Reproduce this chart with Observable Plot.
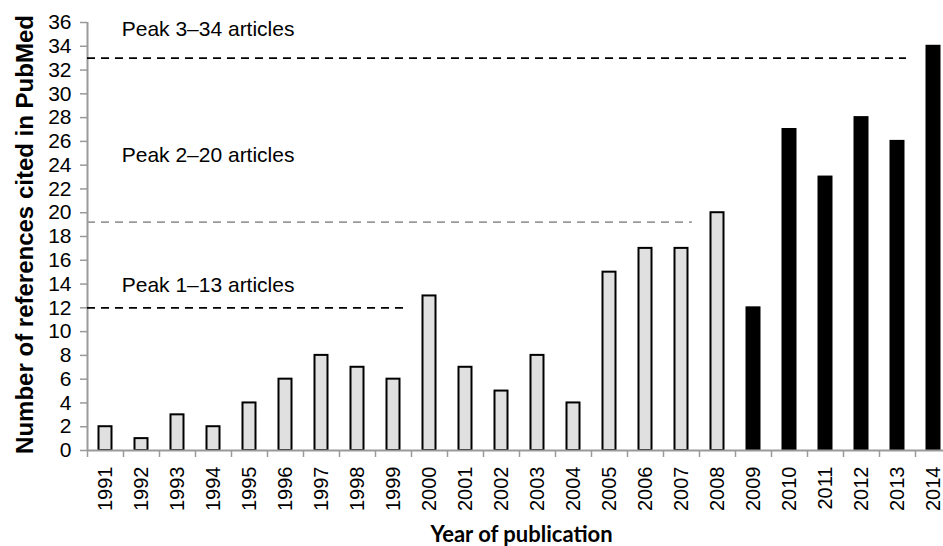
<!DOCTYPE html>
<html>
<head>
<meta charset="utf-8">
<script src="https://cdn.jsdelivr.net/npm/d3@7"></script>
<script src="https://cdn.jsdelivr.net/npm/@observablehq/plot@0.6"></script>
<style>
  html, body { margin: 0; padding: 0; background: #fff; }
  #chart svg { display: block; }
</style>
</head>
<body>
<div id="chart"></div>
<script>
const years = [1991, 1992, 1993, 1994, 1995, 1996, 1997, 1998, 1999, 2000, 2001, 2002,
               2003, 2004, 2005, 2006, 2007, 2008, 2009, 2010, 2011, 2012, 2013, 2014];
const counts = [2, 1, 3, 2, 4, 6, 8, 7, 6, 13, 7, 5, 8, 4, 15, 17, 17, 20, 12, 27, 23, 28, 26, 34];
const recentFrom = 2009;

const yTickValues = [0, 2, 4, 6, 8, 10, 12, 14, 16, 18, 20, 22, 24, 26, 28, 30, 32, 34, 36];

const peakLabels = ["Peak 1–13 articles", "Peak 2–20 articles", "Peak 3–34 articles"];
const peakLineValues = [12, 19.2, 33];
const peakLineEnds = [1999.4, 2007.3, 2013.25];
const peakLabelValues = [13.88, 24.87, 35.47];
const peakLabelYear = 1991.45;

const yTitle = "Number of references cited in PubMed";
const xTitle = "Year of publication";

const data = years.map((year, i) => ({year, count: counts[i]}));
const peaks = peakLabels.map((label, i) => ({
  label, line: peakLineValues[i], end: peakLineEnds[i], labelY: peakLabelValues[i]
}));
const bounds = [...years.map(y => y - 0.5), years[years.length - 1] + 0.5];
const xStart = bounds[0];

const font = "'Liberation Sans', Arial, Helvetica, sans-serif";

const chart = Plot.plot({
  width: 943,
  height: 546,
  marginLeft: 87,
  marginRight: 0,
  marginTop: 22,
  marginBottom: 96,
  style: {fontFamily: font, fontSize: "20px", color: "#000", background: "#fff"},
  x: {domain: [1990.5, 2014.5], range: [87, 951], label: null},
  y: {domain: [0, 36], range: [450, 22], label: null},
  marks: [
    Plot.rectY(data, {
      x1: d => d.year - 0.5,
      x2: d => d.year + 0.5,
      y: "count",
      insetLeft: 11.5,
      insetRight: 11.5,
      fill: d => d.year >= recentFrom ? "#000" : "#e0e0e0",
      stroke: "#000",
      strokeWidth: 2
    }),
    Plot.ruleX([xStart], {stroke: "#9a9a9a", strokeWidth: 2}),
    Plot.ruleY([0], {stroke: "#9a9a9a", strokeWidth: 2}),
    // y ticks (gray marks)
    Plot.axisY({
      ticks: yTickValues,
      tickSize: 7,
      stroke: "#9a9a9a",
      strokeWidth: 1.5,
      fill: "none",
      label: null
    }),
    // y tick labels
    Plot.text(yTickValues, {
      x: xStart,
      y: d => d,
      text: d => String(d),
      textAnchor: "end",
      lineAnchor: "middle",
      dx: -16,
      fontSize: 21,
      fill: "#000"
    }),
    // x ticks at band boundaries
    Plot.axisX({
      ticks: bounds,
      tickSize: 7,
      stroke: "#9a9a9a",
      strokeWidth: 1.5,
      fill: "none",
      label: null
    }),
    // x tick labels (rotated)
    Plot.text(years, {
      x: d => d,
      y: 0,
      text: d => String(d),
      rotate: -90,
      textAnchor: "end",
      lineAnchor: "middle",
      dy: 16,
      fontSize: 20,
      fill: "#000"
    }),
    Plot.ruleY(peaks, {
      y: "line",
      x1: xStart,
      x2: "end",
      stroke: (d, i) => i === 1 ? "#9a9a9a" : "#000",
      strokeWidth: 1.75,
      strokeDasharray: "8,6"
    }),
    Plot.text(peaks, {
      x: peakLabelYear,
      y: "labelY",
      text: "label",
      textAnchor: "start",
      fontSize: 21,
      fill: "#000"
    }),
    Plot.text([yTitle], {
      frameAnchor: "left",
      rotate: -90,
      textAnchor: "middle",
      lineAnchor: "middle",
      dx: -62,
      dy: -2,
      fontSize: 24,
      fontWeight: "bold",
      fill: "#000"
    }),
    Plot.text([xTitle], {
      frameAnchor: "bottom",
      textAnchor: "middle",
      lineAnchor: "middle",
      dx: 6,
      dy: 84,
      fontSize: 22,
      fontWeight: "bold",
      fontFamily: "Lato, 'Open Sans', sans-serif",
      fill: "#000"
    })
  ]
});

document.getElementById("chart").appendChild(chart);
</script>
</body>
</html>
